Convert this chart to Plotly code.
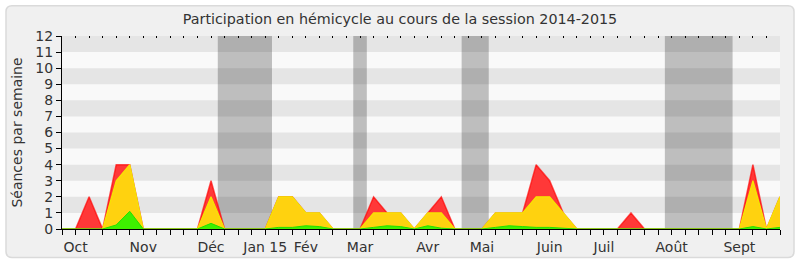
import plotly.graph_objects as go

# Weekly index 0..53 (session 2014-2015)
weeks = list(range(54))

# Values per week (totals, stacked visually)
presences = [0,0,2,0,4,4,0,0,0,0,0,3,0,0,0,0,2,2,1,1,0,0,0,2,1,1,0,1,2,0,0,0,1,1,1,4,3,1,0,0,0,0,1,0,0,0,0,0,0,0,0,4,0,2]
participations = [0,0,0,0,3,4,0,0,0,0,0,2,0,0,0,0,2,2,1,1,0,0,0,1,1,1,0,1,1,0,0,0,1,1,1,2,2,1,0,0,0,0,0,0,0,0,0,0,0,0,0,3,0,2]
interventions = [0,0,0,0,0.25,1.1,0,0,0,0,0,0.35,0,0,0,0,0.1,0.1,0.2,0.15,0,0,0,0.1,0.2,0.15,0,0.2,0.05,0,0,0,0.1,0.2,0.15,0.1,0.1,0.05,0,0,0,0,0,0,0,0,0,0,0,0,0,0.15,0,0.1]

# Month labels at week indices
month_weeks = [1, 6, 11, 15, 18, 22, 27, 31, 36, 40, 45, 50]
month_labels = ["Oct", "Nov", "Déc", "Jan 15", "Fév", "Mar", "Avr", "Mai", "Juin", "Juil", "Août", "Sept"]

# Parliamentary recess periods (week ranges)
recess_start = [11.5, 21.5, 29.5, 44.5]
recess_end = [15.5, 22.5, 31.5, 49.5]

W, H = 800, 267
L, R, T, B = 62, 20, 36, 34
pw, ph = W - L - R, H - T - B

def px2paper(px, py):
    return (px - L) / pw, (H - B - py) / ph

fig = go.Figure()

fig.add_trace(go.Scatter(x=weeks, y=presences, mode="lines", fill="tozeroy",
                         fillcolor="#ff3838", line=dict(color="rgba(255,0,0,0.65)", width=1.5),
                         hoverinfo="skip", showlegend=False))
fig.add_trace(go.Scatter(x=weeks, y=participations, mode="lines", fill="tozeroy",
                         fillcolor="#ffd20f", line=dict(color="#f5e600", width=1.2),
                         hoverinfo="skip", showlegend=False))
fig.add_trace(go.Scatter(x=weeks, y=interventions, mode="lines", fill="tozeroy",
                         fillcolor="#3ef000", line=dict(color="#22e000", width=1),
                         hoverinfo="skip", showlegend=False))
# top-axis dummy trace for the small dotted ticks on top
fig.add_trace(go.Scatter(x=[0, 53], y=[0, 0], xaxis="x2", mode="lines",
                         line=dict(width=0), hoverinfo="skip", showlegend=False))

shapes = []
# Rounded frame
x0, y0, x1, y1, r = 6, 5, 794, 262, 6
def P(x, y):
    a, b = px2paper(x, y)
    return f"{a:.5f},{b:.5f}"
path = (f"M {P(x0+r,y0)} L {P(x1-r,y0)} Q {P(x1,y0)} {P(x1,y0+r)} "
        f"L {P(x1,y1-r)} Q {P(x1,y1)} {P(x1-r,y1)} L {P(x0+r,y1)} "
        f"Q {P(x0,y1)} {P(x0,y1-r)} L {P(x0,y0+r)} Q {P(x0,y0)} {P(x0+r,y0)} Z")
shapes.append(dict(type="path", xref="paper", yref="paper", path=path,
                   fillcolor="#f0f0f0", line=dict(color="#dadada", width=1.5), layer="below"))
# plot background
shapes.append(dict(type="rect", xref="x", yref="y", x0=0, x1=53, y0=0, y1=12,
                   fillcolor="#f9f9f9", line=dict(width=0), layer="below"))
# recess bands
for s, e in zip(recess_start, recess_end):
    shapes.append(dict(type="rect", xref="x", yref="y", x0=s, x1=e, y0=0, y1=12,
                       fillcolor="#bebebe", line=dict(width=0), layer="below"))
# horizontal stripes
for k in range(1, 12, 2):
    shapes.append(dict(type="rect", xref="x", yref="y", x0=0, x1=53, y0=k, y1=k + 1,
                       fillcolor="rgba(0,0,0,0.08)", line=dict(width=0), layer="below"))

ticktext = [month_labels[month_weeks.index(w)] if w in month_weeks else "" for w in weeks]

fig.update_layout(
    width=W, height=H,
    margin=dict(l=L, r=R, t=T, b=B),
    paper_bgcolor="white",
    plot_bgcolor="rgba(0,0,0,0)",
    font=dict(family="DejaVu Sans", size=14, color="#333333"),
    title=dict(text="Participation en hémicycle au cours de la session 2014-2015",
               x=0.5, xanchor="center", y=1 - 19 / H, yanchor="middle", yref="container",
               font=dict(family="DejaVu Sans", size=14.3, color="#333333")),
    shapes=shapes,
    xaxis=dict(range=[0, 53], tickmode="array", tickvals=weeks, ticktext=ticktext,
               ticks="outside", ticklen=5, tickcolor="#000", showline=True, linecolor="#000",
               linewidth=1, showgrid=False, zeroline=False, fixedrange=True,
               tickfont=dict(size=14, color="#333333")),
    xaxis2=dict(range=[0, 53], overlaying="x", side="top", tickmode="array", tickvals=weeks,
                ticks="inside", ticklen=2, tickcolor="#000", showticklabels=False,
                showline=False, showgrid=False, zeroline=False),
    yaxis=dict(range=[0, 12], dtick=1, tick0=0, ticks="outside", ticklen=5, tickcolor="#000",
               showline=True, linecolor="#000", linewidth=1, showgrid=False, zeroline=False,
               title=dict(text="Séances par semaine", font=dict(size=14, color="#333333"), standoff=9),
               tickfont=dict(size=14, color="#333333")),
)

fig.write_html("out.html")
